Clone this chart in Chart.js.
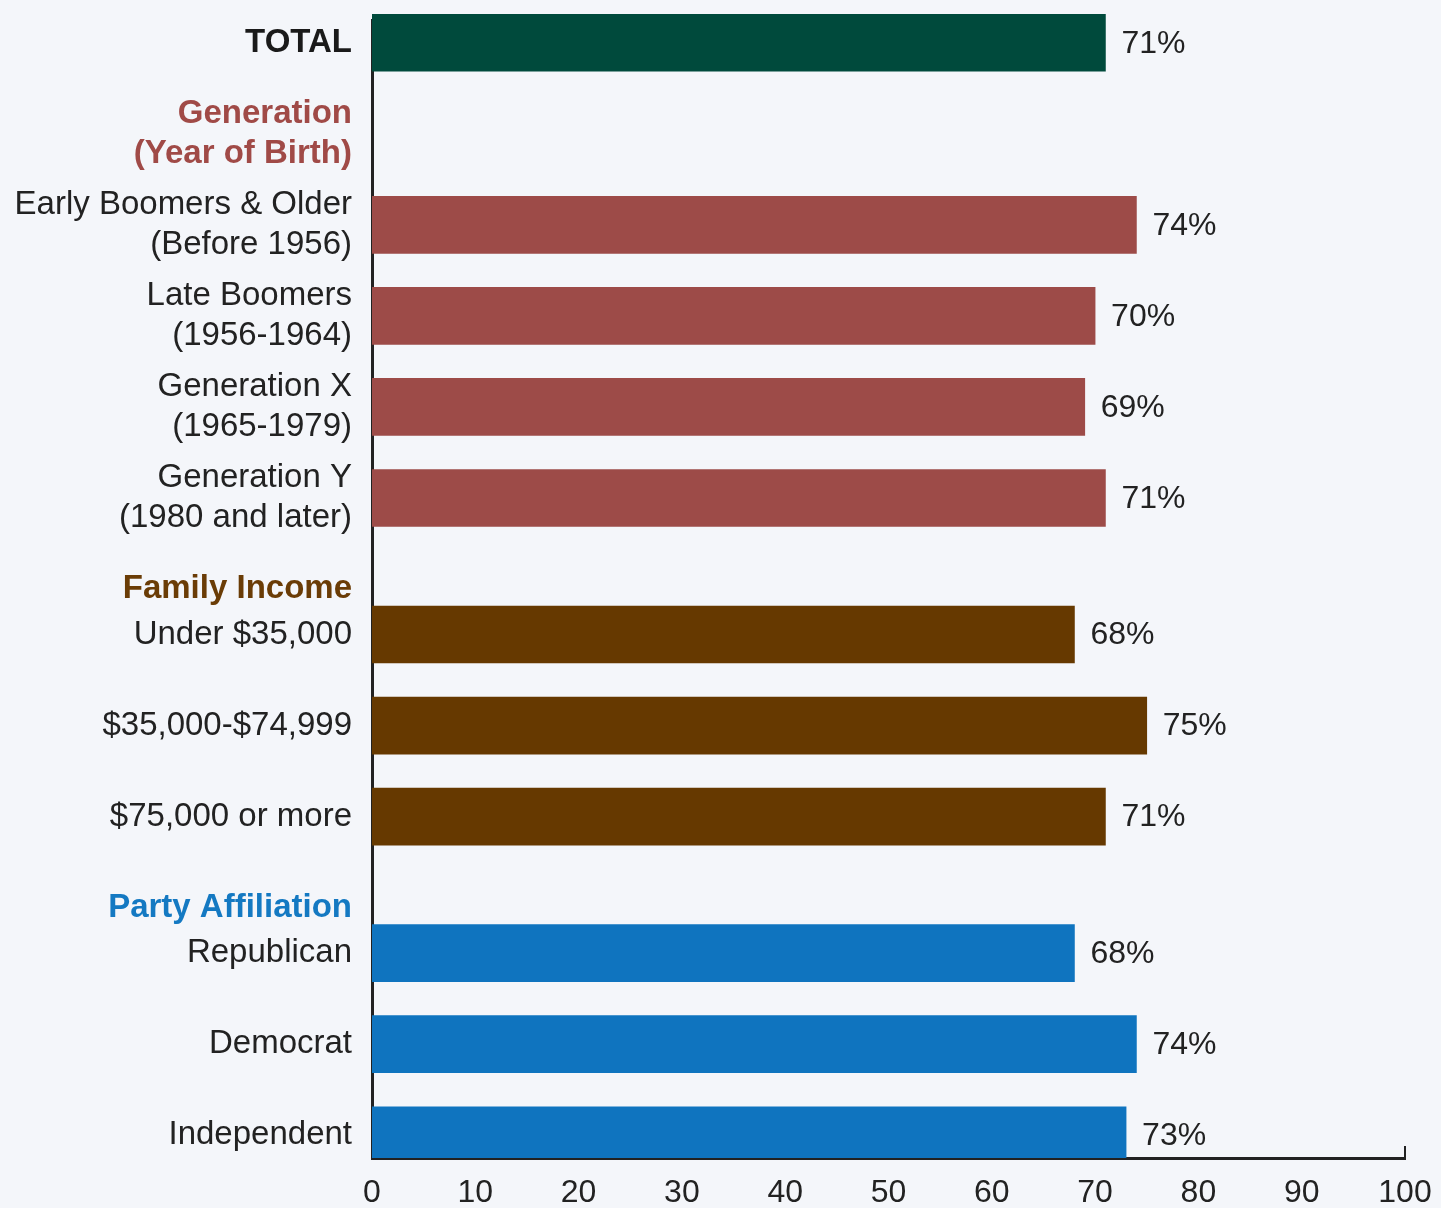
<!DOCTYPE html>
<html lang="en">
<head>
    <meta charset="UTF-8">
    <title>Share by group</title>
    <script src="https://cdn.jsdelivr.net/npm/chart.js"></script>
    <style>
        html, body {
            margin: 0;
            padding: 0;
            background: #f4f6fa;
            overflow: hidden;
        }
        .chart-container {
            position: relative;
            width: 1441px;
            height: 1208px;
        }
    </style>
</head>
<body>
    <div class="chart-container">
        <canvas id="groupChart"></canvas>
    </div>

    <script>
        // Values (percent)
        const totalLabel = 'TOTAL';
        const totalValue = 71;

        const generationTitle = ['Generation', '(Year of Birth)'];
        const generationLabels = [
            ['Early Boomers & Older', '(Before 1956)'],
            ['Late Boomers', '(1956-1964)'],
            ['Generation X', '(1965-1979)'],
            ['Generation Y', '(1980 and later)']
        ];
        const generationValues = [74, 70, 69, 71];

        const incomeTitle = 'Family Income';
        const incomeLabels = ['Under $35,000', '$35,000-$74,999', '$75,000 or more'];
        const incomeValues = [68, 75, 71];

        const partyTitle = 'Party Affiliation';
        const partyLabels = ['Republican', 'Democrat', 'Independent'];
        const partyValues = [68, 74, 73];

        const xTicks = [0, 10, 20, 30, 40, 50, 60, 70, 80, 90, 100];

        // Colours
        const colors = {
            total: '#004a3c',
            generation: '#9d4b48',
            income: '#663900',
            party: '#0f74bf'
        };
        const titleColors = {
            generation: '#a04a47',
            income: '#6a3c06',
            party: '#1479c2'
        };

        // Build the category rows (blank rows give the spacing between groups)
        const rows = [];
        function addRow(label, value, color, header) {
            rows.push({ label: label, value: value, color: color, header: header || null });
        }
        function addBlank() {
            addRow('', null, 'transparent');
        }

        addRow(totalLabel, totalValue, colors.total, '#1a1a1a');
        addBlank();
        addRow(generationTitle, null, 'transparent', titleColors.generation);
        generationLabels.forEach((label, i) => {
            addBlank();
            addRow(label, generationValues[i], colors.generation);
        });
        addBlank();
        addRow(incomeTitle, null, 'transparent', titleColors.income);
        incomeLabels.forEach((label, i) => {
            if (i > 0) addBlank();
            addRow(label, incomeValues[i], colors.income);
        });
        addBlank();
        addRow(partyTitle, null, 'transparent', titleColors.party);
        partyLabels.forEach((label, i) => {
            if (i > 0) addBlank();
            addRow(label, partyValues[i], colors.party);
        });

        const fontFamily = "'Liberation Sans', Arial, Helvetica, sans-serif";

        // Percent labels at the end of each bar, plus the end tick on the x axis
        const barLabels = {
            id: 'barLabels',
            afterDatasetsDraw(chart) {
                const ctx = chart.ctx;
                const meta = chart.getDatasetMeta(0);
                ctx.save();
                ctx.font = '32px ' + fontFamily;
                ctx.fillStyle = '#222';
                ctx.textBaseline = 'middle';
                ctx.textAlign = 'left';
                meta.data.forEach((bar, i) => {
                    const v = rows[i].value;
                    if (v === null) return;
                    ctx.fillText(v + '%', bar.x + 16, bar.y + 1);
                });

                const xScale = chart.scales.x;
                const xe = xScale.getPixelForValue(100);
                ctx.strokeStyle = '#222';
                ctx.lineWidth = 2;
                ctx.beginPath();
                ctx.moveTo(xe, chart.chartArea.bottom);
                ctx.lineTo(xe, chart.chartArea.bottom - 12);
                ctx.stroke();
                ctx.restore();
            }
        };

        const ctx = document.getElementById('groupChart').getContext('2d');
        const chart = new Chart(ctx, {
            type: 'bar',
            data: {
                labels: rows.map(r => r.label),
                datasets: [{
                    data: rows.map(r => r.value),
                    backgroundColor: rows.map(r => r.color),
                    barThickness: 57,
                    borderWidth: 0,
                    clip: { left: 0, top: false, right: false, bottom: 0 }
                }]
            },
            options: {
                indexAxis: 'y',
                responsive: true,
                maintainAspectRatio: false,
                animation: false,
                layout: {
                    padding: { top: 20, right: 36, bottom: 0, left: 0 }
                },
                scales: {
                    x: {
                        min: 0,
                        max: 100,
                        afterBuildTicks: (scale) => {
                            scale.ticks = xTicks.map(v => ({ value: v }));
                        },
                        afterFit: (scale) => {
                            scale.height = 50;
                            scale.paddingLeft = 0;
                            scale.paddingRight = 0;
                        },
                        grid: { display: false, drawTicks: false },
                        border: { display: true, color: '#222', width: 3 },
                        ticks: {
                            padding: 16,
                            maxRotation: 0,
                            color: '#222',
                            font: { family: fontFamily, size: 32 }
                        }
                    },
                    y: {
                        afterFit: (scale) => {
                            scale.width = 372;
                            scale.paddingTop = 0;
                            scale.paddingBottom = 0;
                        },
                        grid: { display: false, drawTicks: false },
                        border: { display: true, color: '#222', width: 3 },
                        ticks: {
                            autoSkip: false,
                            padding: 20,
                            color: (c) => rows[c.index].header || '#222',
                            font: (c) => ({
                                family: fontFamily,
                                size: 33,
                                weight: rows[c.index].header ? 'bold' : 'normal',
                                lineHeight: 1.22
                            })
                        }
                    }
                },
                plugins: {
                    legend: { display: false },
                    tooltip: { enabled: false }
                }
            },
            plugins: [barLabels]
        });
    </script>
</body>
</html>
